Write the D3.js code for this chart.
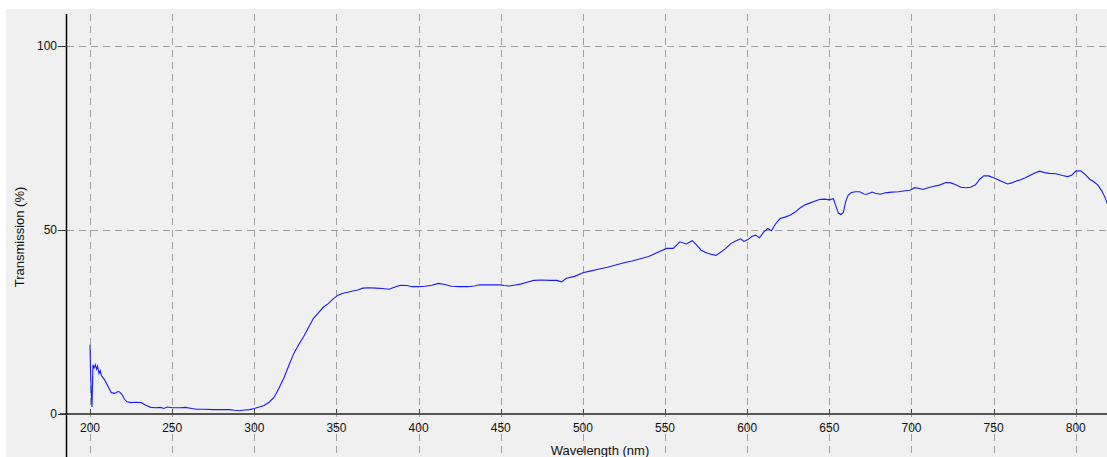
<!DOCTYPE html>
<html>
<head>
<meta charset="utf-8">
<script src="https://cdn.jsdelivr.net/npm/d3@7"></script>
<style>
  body { margin: 0; background: #fff; }
  svg { display: block; font-family: "Liberation Sans", Arial, sans-serif; }
</style>
</head>
<body>
<div id="vis"></div>
<script>
// spectrum: wavelength (nm) and transmission (%)
var wavelength = [
  200, 200.3, 200.7, 201.2, 201.8, 202.5, 203.2, 204, 204.6, 205.5, 206.2, 207, 208, 209, 211, 213,
  215, 217, 218, 219.5, 221, 222.5, 225, 228, 231, 234, 237, 240, 243, 245, 247, 250,
  255, 258, 262, 265, 270, 275, 280, 285, 288, 291, 294, 297, 300, 303, 306, 309,
  312, 315, 318, 321, 324, 327, 330, 333, 336, 339, 342, 345, 348, 351, 354, 357,
  360, 363, 366, 370, 374, 378, 382, 386, 389, 393, 396, 400, 404, 408, 412, 416,
  420, 425, 430, 434, 437, 440, 445, 449, 452, 455, 458, 462, 466, 470, 475, 480,
  484, 487, 490, 495, 500, 505, 510, 515, 520, 525, 530, 535, 540, 544, 547, 551,
  555, 559, 563, 566.5, 569, 572, 575, 578, 581, 584, 587, 590, 593, 596, 598, 600.5,
  603, 605, 607.5, 610, 612.5, 614.8, 617, 620, 623, 626, 629, 632, 635, 638, 641, 644,
  647, 650, 652.5, 654, 655.5, 657, 658.5, 660, 661.5, 663.5, 666, 668.5, 671, 673, 676, 678,
  681, 684, 688, 692, 695, 699, 702, 705, 707, 710, 713, 717, 721, 724, 727, 730,
  733, 736, 739, 741.5, 744, 747, 750, 753, 756, 758.5, 761, 763, 766, 769, 772, 775,
  778, 781, 784, 788, 792, 795, 797.5, 800, 803, 806, 808.5, 811, 813.5, 816, 818, 819.5
];
var transmission = [
  18.8, 12, 6.5, 1.9, 13.3, 12.5, 13.4, 12.2, 13.0, 11.0, 11.8, 10.4, 9.8, 9.2, 7.5, 5.8,
  5.6, 6.1, 6.0, 5.3, 4.0, 3.3, 3.1, 3.2, 3.1, 2.4, 1.8, 1.7, 1.8, 1.5, 1.9, 1.7,
  1.7, 1.8, 1.5, 1.3, 1.3, 1.2, 1.2, 1.2, 1.0, 0.9, 1.1, 1.2, 1.5, 1.9, 2.3, 3.2,
  4.5, 7.0, 9.8, 13.2, 16.4, 18.8, 21.0, 23.5, 26.0, 27.5, 29.0, 30.0, 31.3, 32.3, 32.8, 33.1,
  33.4, 33.7, 34.2, 34.3, 34.2, 34.1, 33.9, 34.6, 35.0, 34.9, 34.6, 34.6, 34.7, 35.0, 35.5, 35.2,
  34.7, 34.6, 34.6, 34.8, 35.1, 35.1, 35.1, 35.1, 34.9, 34.8, 35.0, 35.3, 35.8, 36.3, 36.4, 36.3,
  36.3, 35.9, 36.9, 37.4, 38.4, 38.9, 39.4, 39.9, 40.5, 41.1, 41.6, 42.2, 42.8, 43.6, 44.2, 45.0,
  45.0, 46.8, 46.2, 47.1, 46.0, 44.5, 43.8, 43.4, 43.1, 44.0, 45.0, 46.3, 47.0, 47.6, 46.9, 47.4,
  48.3, 48.6, 47.9, 49.4, 50.4, 49.8, 51.5, 53.1, 53.5, 54.0, 54.8, 55.9, 56.8, 57.3, 57.8, 58.3,
  58.4, 58.2, 58.5, 56.5, 54.6, 54.2, 54.7, 57.8, 59.5, 60.2, 60.4, 60.4, 59.8, 59.7, 60.3, 60.0,
  59.7, 60.1, 60.3, 60.4, 60.6, 60.8, 61.5, 61.3, 61.0, 61.5, 61.8, 62.2, 62.9, 62.8, 62.3, 61.6,
  61.5, 61.6, 62.3, 63.8, 64.7, 64.7, 64.2, 63.6, 63.0, 62.5, 62.8, 63.2, 63.6, 64.1, 64.8, 65.5,
  66.0, 65.6, 65.4, 65.3, 64.8, 64.5, 64.9, 66.0, 66.1, 65.0, 63.8, 63.1, 62.2, 60.5, 58.6, 56.8
];
var xTicks = [200, 250, 300, 350, 400, 450, 500, 550, 600, 650, 700, 750, 800];
var yTicks = [0, 50, 100];

var width = 1107, height = 457;
var plotLeft = 67, plotRight = 1107, plotTop = 14, axisY = 414;

var svg = d3.select('#vis').append('svg')
  .attr('width', width)
  .attr('height', height);

// gray panel
svg.append('rect')
  .attr('x', 6).attr('y', 9)
  .attr('width', width - 6).attr('height', height - 9)
  .attr('fill', '#f0f0f0');

var x = d3.scaleLinear().domain([186, 819]).range([plotLeft, plotRight]);
var y = d3.scaleLinear().domain([0, 100]).range([axisY, 46]);

// dashed grid
svg.append('g').selectAll('line')
  .data(xTicks)
  .enter().append('line')
  .attr('x1', function(d) { return Math.round(x(d)) + 0.5; })
  .attr('x2', function(d) { return Math.round(x(d)) + 0.5; })
  .attr('y1', plotTop)
  .attr('y2', height)
  .attr('stroke', '#a0a0a0')
  .attr('stroke-dasharray', '7,5');

svg.append('g').selectAll('line')
  .data(yTicks.filter(function(d) { return d > 0; }))
  .enter().append('line')
  .attr('x1', plotLeft)
  .attr('x2', plotRight)
  .attr('y1', function(d) { return Math.round(y(d)) + 0.5; })
  .attr('y2', function(d) { return Math.round(y(d)) + 0.5; })
  .attr('stroke', '#a0a0a0')
  .attr('stroke-dasharray', '7,5');

// the curve
var pts = wavelength.map(function(w, i) { return [w, transmission[i]]; });
var line = d3.line()
  .x(function(d) { return x(d[0]); })
  .y(function(d) { return y(d[1]); });

svg.append('clipPath').attr('id', 'clip')
  .append('rect').attr('x', plotLeft).attr('y', plotTop)
  .attr('width', plotRight - plotLeft).attr('height', axisY - plotTop);

svg.append('path')
  .datum(pts)
  .attr('clip-path', 'url(#clip)')
  .attr('fill', 'none')
  .attr('stroke', '#1a1aff')
  .attr('stroke-width', 1.1)
  .attr('d', line);

// x axis
var xAxis = svg.append('g');
xAxis.append('line')
  .attr('x1', 60).attr('x2', plotRight)
  .attr('y1', axisY).attr('y2', axisY)
  .attr('stroke', '#555').attr('stroke-width', 2);
xAxis.selectAll('.xt')
  .data(xTicks)
  .enter().append('line')
  .attr('x1', function(d) { return Math.round(x(d)) + 0.5; })
  .attr('x2', function(d) { return Math.round(x(d)) + 0.5; })
  .attr('y1', axisY - 5).attr('y2', axisY)
  .attr('stroke', '#444');
xAxis.selectAll('text')
  .data(xTicks)
  .enter().append('text')
  .attr('x', function(d) { return x(d); })
  .attr('y', 432)
  .attr('text-anchor', 'middle')
  .attr('font-size', 12)
  .attr('fill', '#111')
  .text(function(d) { return d; });

svg.append('text')
  .attr('x', 600).attr('y', 455)
  .attr('text-anchor', 'middle')
  .attr('font-size', 13)
  .attr('fill', '#111')
  .text('Wavelength (nm)');

// y axis
var yAxis = svg.append('g');
yAxis.append('line')
  .attr('x1', plotLeft - 0.5).attr('x2', plotLeft - 0.5)
  .attr('y1', plotTop).attr('y2', height)
  .attr('stroke', '#000').attr('stroke-width', 1.5);
yAxis.selectAll('.yt')
  .data(yTicks)
  .enter().append('line')
  .attr('x1', 58).attr('x2', plotLeft)
  .attr('y1', function(d) { return Math.round(y(d)) + 0.5; })
  .attr('y2', function(d) { return Math.round(y(d)) + 0.5; })
  .attr('stroke', '#333');
yAxis.selectAll('text')
  .data(yTicks)
  .enter().append('text')
  .attr('x', 57)
  .attr('y', function(d) { return y(d) + 4; })
  .attr('text-anchor', 'end')
  .attr('font-size', 12)
  .attr('fill', '#111')
  .text(function(d) { return d; });

svg.append('text')
  .attr('transform', 'translate(24,237) rotate(-90)')
  .attr('text-anchor', 'middle')
  .attr('font-size', 13)
  .attr('fill', '#111')
  .text('Transmission (%)');
</script>
</body>
</html>
